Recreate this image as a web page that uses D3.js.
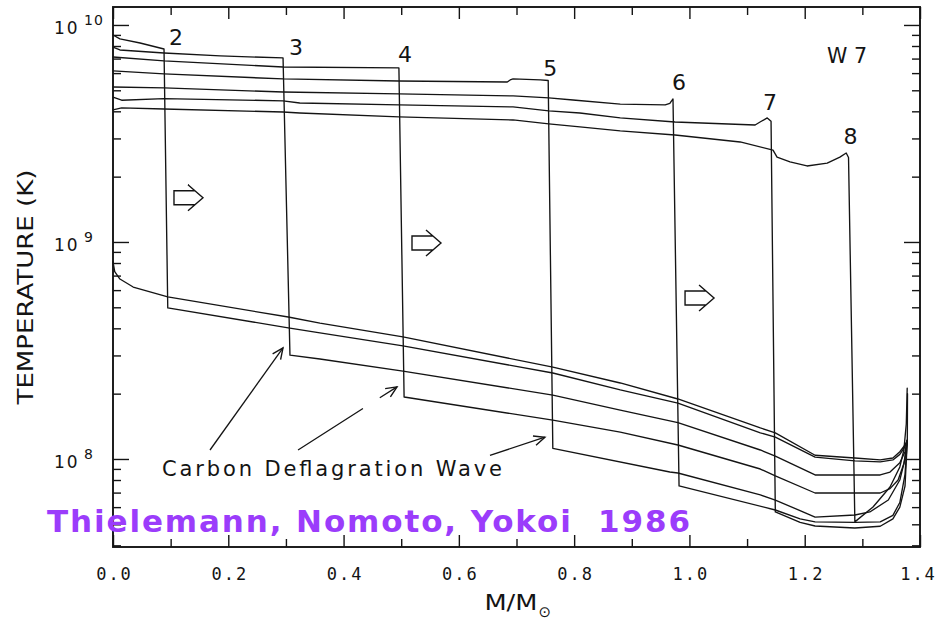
<!DOCTYPE html>
<html>
<head>
<meta charset="utf-8">
<script src="https://cdn.jsdelivr.net/npm/d3@7"></script>
<style>
  html, body { margin: 0; padding: 0; background: #fff; }
  svg { display: block; }
</style>
</head>
<body>
<svg id="chart" width="938" height="622"></svg>
<script>
// ---------------- data ----------------
// Axis ticks
const massTicks = [0, 0.2, 0.4, 0.6, 0.8, 1.0, 1.2, 1.4];
const massMinorTicks = [0.1, 0.3, 0.5, 0.7, 0.9, 1.1, 1.3];
const tempDecades = [1e8, 1e9, 1e10];
const decadeExponents = ["8", "9", "10"];

// Temperature profiles T(K) versus enclosed mass M/Msun, W7 model.
// Initial (pre-burning) profile
const initialProfile = [
  [0, 8.1e8], [0.003, 7.3e8], [0.012, 6.75e8], [0.035, 6.2e8], [0.095, 5.58e8],
  [0.304, 4.51e8], [0.359, 4.23e8], [0.503, 3.65e8], [0.763, 2.65e8], [0.880, 2.24e8],
  [0.980, 1.89e8], [1.123, 1.39e8], [1.149, 1.32e8], [1.218, 1.04e8], [1.287, 1.01e8],
  [1.331, 9.9e7], [1.353, 1.01e8], [1.365, 1.08e8], [1.374, 1.16e8], [1.378, 1.22e8]
];

// Burned zone (behind the deflagration front) and unburned zone (ahead of it), stages 2-8
const burned2 = [[0, 8.99e9], [0.012, 8.62e9], [0.047, 8.26e9], [0.0885, 7.75e9]];
const unburned2 = [
  [0.095, 4.97e8], [0.304, 4.02e8], [0.359, 3.81e8], [0.503, 3.32e8], [0.763, 2.49e8],
  [0.880, 2.08e8], [0.980, 1.81e8], [1.123, 1.32e8], [1.149, 1.26e8], [1.218, 1.02e8],
  [1.287, 9.8e7], [1.331, 9.69e7], [1.353, 9.9e7], [1.365, 1.05e8], [1.374, 1.14e8], [1.378, 1.22e8]
];

const burned3 = [[0, 7.9e9], [0.012, 7.67e9], [0.0885, 7.43e9], [0.186, 7.2e9], [0.295, 7.05e9]];
const unburned3 = [
  [0.307, 3.01e8], [0.359, 2.89e8], [0.503, 2.54e8], [0.763, 1.97e8], [0.880, 1.68e8],
  [0.980, 1.47e8], [1.123, 1.10e8], [1.149, 1.03e8], [1.218, 8.44e7], [1.331, 8.44e7],
  [1.348, 8.7e7], [1.365, 9.6e7], [1.374, 1.08e8], [1.378, 1.22e8]
];

const burned4 = [[0, 7.12e9], [0.0885, 6.83e9], [0.295, 6.40e9], [0.496, 6.34e9]];
const unburned4 = [
  [0.505, 1.93e8], [0.763, 1.51e8], [0.880, 1.33e8], [0.980, 1.16e8], [1.123, 8.99e7],
  [1.149, 8.35e7], [1.218, 6.97e7], [1.331, 6.97e7], [1.348, 7.3e7], [1.362, 8.0e7],
  [1.372, 9.5e7], [1.378, 1.22e8]
];

const burned5 = [
  [0, 6.14e9], [0.0885, 5.95e9], [0.295, 5.64e9], [0.496, 5.52e9], [0.684, 5.46e9],
  [0.689, 5.58e9], [0.694, 5.64e9], [0.741, 5.58e9], [0.755, 5.55e9]
];
const unburned5 = [
  [0.763, 1.12e8], [0.966, 8.71e7], [0.980, 8.62e7], [1.123, 6.83e7], [1.149, 6.47e7],
  [1.218, 5.40e7], [1.287, 5.52e7], [1.313, 5.70e7], [1.345, 6.47e7], [1.365, 8.0e7],
  [1.374, 1.0e8], [1.378, 1.22e8]
];

const burned6 = [
  [0, 5.18e9], [0.0885, 5.13e9], [0.295, 4.91e9], [0.496, 4.81e9], [0.694, 4.71e9],
  [0.756, 4.61e9], [0.798, 4.51e9], [0.880, 4.32e9], [0.958, 4.28e9], [0.966, 4.35e9],
  [0.9715, 4.56e9]
];
const unburned6 = [
  [0.982, 7.51e7], [1.149, 5.82e7], [1.192, 5.3e7], [1.218, 5.13e7], [1.287, 5.1e7],
  [1.331, 5.13e7], [1.353, 5.5e7], [1.365, 6.3e7], [1.374, 8.5e7], [1.378, 1.22e8]
];

const burned7 = [
  [0, 4.65e9], [0.015, 4.5e9], [0.0885, 4.58e9], [0.295, 4.47e9], [0.324, 4.37e9],
  [0.496, 4.28e9], [0.694, 4.19e9], [0.756, 4.02e9], [0.810, 3.93e9], [0.880, 3.73e9],
  [0.975, 3.57e9], [1.114, 3.46e9], [1.1225, 3.57e9], [1.135, 3.73e9], [1.1416, 3.6e9]
];
const unburned7 = [
  [1.149, 5.70e7], [1.192, 5.1e7], [1.218, 4.91e7], [1.287, 4.81e7], [1.331, 4.9e7],
  [1.353, 5.3e7], [1.365, 6.0e7], [1.374, 7.5e7], [1.378, 1.22e8], [1.3783, 2.0e8]
];

const burned8 = [
  [0, 4.06e9], [0.015, 4.15e9], [0.0885, 4.10e9], [0.295, 3.97e9], [0.324, 3.93e9],
  [0.496, 3.77e9], [0.694, 3.65e9], [0.756, 3.50e9], [0.810, 3.39e9], [0.880, 3.25e9],
  [0.975, 3.11e9], [1.088, 2.89e9], [1.145, 2.65e9], [1.152, 2.46e9], [1.1745, 2.34e9],
  [1.204, 2.24e9], [1.239, 2.31e9], [1.261, 2.46e9], [1.272, 2.57e9], [1.276, 2.45e9]
];
const unburned8 = [
  [1.287, 5.13e7], [1.3185, 6.01e7], [1.348, 7.43e7], [1.365, 9.19e7], [1.372, 1.1e8],
  [1.3762, 1.45e8], [1.3778, 2.12e8]
];

const stageLabels = ["2", "3", "4", "5", "6", "7", "8"];
const burnedStages = [burned2, burned3, burned4, burned5, burned6, burned7, burned8];
const unburnedStages = [unburned2, unburned3, unburned4, unburned5, unburned6, unburned7, unburned8];

// Annotations (data coordinates)
const modelName = "W 7";
const modelNameAt = [1.2387, 6.68e9];
const frontArrowsAt = [[0.1058, 1.60e9], [0.5187, 9.89e8], [0.9924, 5.52e8]];
const waveText = "Carbon Deflagration Wave";
const waveTextAt = [0.085, 8.35e7];
const wavePointers = [
  [[0.1683, 1.10e8], [0.2949, 3.25e8]],
  [[0.3210, 1.10e8], [0.4927, 2.15e8]],
  [[0.6540, 1.04e8], [0.7493, 1.26e8]]
];
const creditText = "Thielemann, Nomoto, Yokoi  1986";

// ---------------- layout ----------------
const W = 938, H = 622;
const margin = { left: 113, right: 18, top: 7, bottom: 75 };
const x = d3.scaleLinear().domain([0, 1.4]).range([margin.left, W - margin.right]);
const y = d3.scaleLog().domain([3.93e7, 1.21e10]).range([H - margin.bottom, margin.top]);

const ink = "#141414";
const svg = d3.select("#chart");
svg.append("rect").attr("width", W).attr("height", H).attr("fill", "#fff");

const plot = svg.append("g");

// Minor temperature ticks (2..9 x 10^n inside the domain)
const [tMin, tMax] = y.domain();
const tempMinorTicks = [];
for (let e = 7; e <= 10; e++) {
  for (let k = 2; k <= 9; k++) {
    const v = k * Math.pow(10, e);
    if (v >= tMin && v <= tMax) tempMinorTicks.push(v);
  }
}

function drawAxis(gen, tx, ty) {
  const g = plot.append("g").attr("transform", `translate(${tx},${ty})`).call(gen);
  g.select(".domain").remove();
  g.selectAll(".tick line").attr("stroke", ink).attr("stroke-width", 1.4);
  return g;
}
const x0 = x.range()[0], x1 = x.range()[1];
const y0 = y.range()[0], y1 = y.range()[1];

// Bottom axis with labels
const bottom = drawAxis(
  d3.axisBottom(x).tickValues(massTicks).tickSize(-12).tickPadding(21).tickFormat(d3.format(".1f")),
  0, y0);
bottom.selectAll("text")
  .attr("fill", ink)
  .attr("font-family", "'DejaVu Sans Mono', monospace")
  .attr("font-size", 17)
  .attr("letter-spacing", 2)
  .attr("dx", 1);
// keep the last label inside the page
bottom.selectAll(".tick").filter(d => d === massTicks[massTicks.length - 1])
  .select("text").attr("dx", -2);
drawAxis(d3.axisBottom(x).tickValues(massMinorTicks).tickSize(-8).tickFormat(() => ""), 0, y0);
// Top axis
drawAxis(d3.axisTop(x).tickValues(massTicks).tickSize(-12).tickFormat(() => ""), 0, y1);
drawAxis(d3.axisTop(x).tickValues(massMinorTicks).tickSize(-8).tickFormat(() => ""), 0, y1);
// Left axis
drawAxis(d3.axisLeft(y).tickValues(tempDecades).tickSize(-16).tickFormat(() => ""), x0, 0);
drawAxis(d3.axisLeft(y).tickValues(tempMinorTicks).tickSize(-8).tickFormat(() => ""), x0, 0);
// Right axis
drawAxis(d3.axisRight(y).tickValues(tempDecades).tickSize(-16).tickFormat(() => ""), x1, 0);
drawAxis(d3.axisRight(y).tickValues(tempMinorTicks).tickSize(-8).tickFormat(() => ""), x1, 0);

// Frame
plot.append("rect")
  .attr("x", x0).attr("y", y1)
  .attr("width", x1 - x0).attr("height", y0 - y1)
  .attr("fill", "none").attr("stroke", ink).attr("stroke-width", 1.9);

// Decade labels 10^n
const decadeLabels = plot.append("g")
  .attr("font-family", "'DejaVu Sans', sans-serif").attr("fill", ink);
tempDecades.forEach((v, i) => {
  decadeLabels.append("text")
    .attr("x", x0 - 59).attr("y", y(v) + 9)
    .attr("font-size", 17).attr("letter-spacing", 2)
    .text("10");
  decadeLabels.append("text")
    .attr("x", x0 - 29).attr("y", y(v))
    .attr("font-size", 14).attr("letter-spacing", 1)
    .text(decadeExponents[i]);
});

// Axis titles
svg.append("text")
  .attr("transform", `translate(33,${(y0 + y1) / 2 + 10}) rotate(-90)`)
  .attr("text-anchor", "middle")
  .attr("font-family", "'DejaVu Sans', sans-serif")
  .attr("font-size", 21)
  .attr("fill", ink)
  .attr("textLength", 235).attr("lengthAdjust", "spacingAndGlyphs")
  .text("TEMPERATURE (K)");

const xTitle = svg.append("text")
  .attr("x", x(0.6443)).attr("y", y0 + 63)
  .attr("font-family", "'DejaVu Sans', sans-serif")
  .attr("font-size", 22)
  .attr("fill", ink);
xTitle.append("tspan").attr("textLength", 53).attr("lengthAdjust", "spacingAndGlyphs").text("M/M");
xTitle.append("tspan").attr("font-size", 15).attr("dx", 1).attr("dy", 7).text("\u2299");

// ---------------- profiles ----------------
const line = d3.line().x(d => x(d[0])).y(d => y(d[1]));
const curves = plot.append("g")
  .attr("fill", "none").attr("stroke", ink)
  .attr("stroke-width", 1.35).attr("stroke-linejoin", "round").attr("stroke-linecap", "round");

curves.append("path").attr("d", line(initialProfile));
burnedStages.forEach((b, i) => {
  curves.append("path").attr("d", line(b.concat(unburnedStages[i])));
});

// Stage numbers at the top of each front
const labelNudge = [[12, -4], [13, -3], [6, -6], [2, -4], [6, -9], [-1, -11], [2, -14]];
const stageText = plot.append("g")
  .attr("font-family", "'DejaVu Sans', sans-serif")
  .attr("font-size", 22).attr("fill", ink).attr("text-anchor", "middle");
burnedStages.forEach((b, i) => {
  const top = b[b.length - 1];
  stageText.append("text")
    .attr("x", x(top[0]) + labelNudge[i][0])
    .attr("y", y(top[1]) + labelNudge[i][1])
    .text(stageLabels[i]);
});

// Model name
plot.append("text")
  .attr("x", x(modelNameAt[0])).attr("y", y(modelNameAt[1]))
  .attr("font-family", "'DejaVu Sans', sans-serif").attr("font-size", 22)
  .attr("fill", ink).attr("textLength", 40).attr("lengthAdjust", "spacingAndGlyphs")
  .text(modelName);

// Hollow arrows showing front propagation
const blockArrow = "M0,-7 H20.9 L14,-13 L29,0 L14,13 L20.9,7 H0 Z";
frontArrowsAt.forEach(p => {
  plot.append("path")
    .attr("transform", `translate(${x(p[0])},${y(p[1])})`)
    .attr("d", blockArrow)
    .attr("fill", "#fff").attr("stroke", ink).attr("stroke-width", 1.4)
    .attr("stroke-linejoin", "miter");
});

// "Carbon Deflagration Wave" with pointers
plot.append("text")
  .attr("x", x(waveTextAt[0])).attr("y", y(waveTextAt[1]))
  .attr("font-family", "'DejaVu Sans', sans-serif").attr("font-size", 21)
  .attr("fill", ink).attr("textLength", 340).attr("lengthAdjust", "spacing")
  .text(waveText);

const pointerDash = [null, "77 20 40", null];
wavePointers.forEach((seg, i) => {
  const ax = x(seg[0][0]), ay = y(seg[0][1]);
  const bx = x(seg[1][0]), by = y(seg[1][1]);
  const ln = plot.append("line")
    .attr("x1", ax).attr("y1", ay).attr("x2", bx).attr("y2", by)
    .attr("stroke", ink).attr("stroke-width", 1.3);
  if (pointerDash[i]) ln.attr("stroke-dasharray", pointerDash[i]);
  const ang = Math.atan2(by - ay, bx - ax);
  const len = 12, spread = 0.42;
  const p1 = [bx - len * Math.cos(ang - spread), by - len * Math.sin(ang - spread)];
  const p2 = [bx - len * Math.cos(ang + spread), by - len * Math.sin(ang + spread)];
  plot.append("path")
    .attr("d", `M${p1[0]},${p1[1]} L${bx},${by} L${p2[0]},${p2[1]}`)
    .attr("fill", "none").attr("stroke", ink).attr("stroke-width", 1.4);
});

// Credit line
svg.append("text")
  .attr("x", x0 - 66).attr("y", y0 - 15)
  .style("white-space", "pre")
  .attr("font-family", "'DejaVu Sans', sans-serif").attr("font-weight", "bold")
  .attr("font-size", 31).attr("fill", "#9b3cfb")
  .attr("textLength", 643).attr("lengthAdjust", "spacing")
  .text(creditText);
</script>
</body>
</html>
